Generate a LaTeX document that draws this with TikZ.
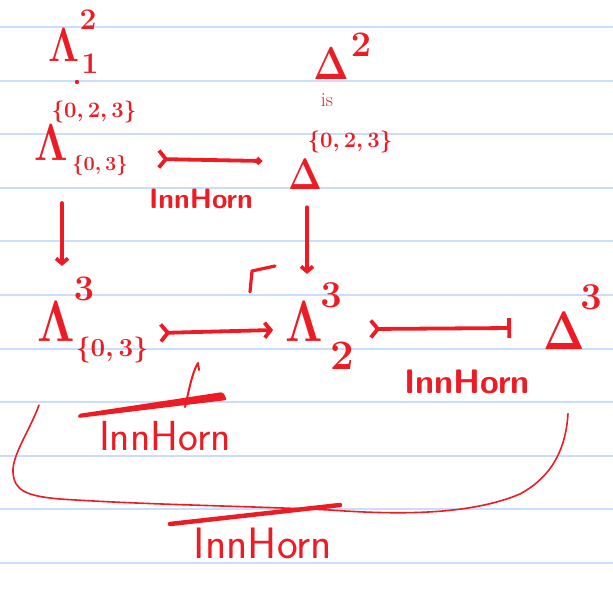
\documentclass[tikz,border=0pt]{standalone}
\usepackage{fix-cm}
\usepackage{fontspec}
\usetikzlibrary{arrows.meta}
\definecolor{ink}{RGB}{237,28,36}
\definecolor{paperrule}{RGB}{200,222,250}
\newcommand\mfont[1]{\fontsize{#1}{#1}\selectfont\boldmath}
\newcommand\narrow[1]{\scalebox{0.82}[1]{#1}}
\tikzset{
  glyph/.style={text=ink,inner sep=0pt,font=\mfont{#1}},
  pen/.style={draw=ink,line width=3.8pt,line cap=round,line join=round},
  tag/.style={text=ink,inner sep=0pt,font=\fontsize{#1}{#1}\selectfont\sffamily\bfseries},
  thintag/.style={text=ink,inner sep=0pt,font=\fontsize{#1}{#1}\selectfont\sffamily},
  monodot/.style={pen,{Straight Barb[reversed,length=7pt,width=17pt]}-{Circle[length=7pt]}},
  monoto/.style={pen,{Straight Barb[reversed,length=7pt,width=17pt]}-{Straight Barb[length=6pt,width=15pt]}},
  monobar/.style={pen,{Straight Barb[reversed,length=7pt,width=17pt]}-{Bar[width=20pt]}},
  downto/.style={pen,-{Straight Barb[length=5pt,width=12pt]}},
  thinpen/.style={draw=ink,line width=1.6pt,line cap=round,line join=round},
}
\begin{document}
\begin{tikzpicture}[x=1pt,y=-1pt]
\useasboundingbox (0,0) rectangle (613,592);
\fill[white] (0,0) rectangle (613,592);
\foreach \k in {0,...,10} \draw[paperrule,line width=2pt] (0,27+53.6*\k) -- (613,27+53.6*\k);

% objects: main symbols and their scripts
\node[glyph=48] (A) at (64,45) {\narrow{$\Lambda$}};
\node[glyph=30] (Asup) at (88,20) {$2$};
\node[glyph=30] (Asub) at (90,64) {$1$};
\fill[ink] (77,82) circle (2.2pt);

\node[glyph=52] (B) at (51,143) {\narrow{$\Lambda$}};
\node[glyph=22] (Bsup) at (94,112) {$\{0,2,3\}$};
\node[glyph=20] (Bsub) at (100,165) {$\{0,3\}$};

\node[glyph=46] (C) at (331,64) {\narrow{$\Delta$}};
\node[glyph=36] (Csup) at (361,45) {$2$};
\node[text=ink,inner sep=0pt,font=\fontsize{20}{20}\selectfont] (isT) at (327,100) {is};

\node[glyph=44] (D) at (305,174) {\narrow{$\Delta$}};
\node[glyph=22] (Dsup) at (350,142) {$\{0,2,3\}$};

\node[glyph=58] (E) at (56,322) {\narrow{$\Lambda$}};
\node[glyph=36] (Esup) at (84,289) {$3$};
\node[glyph=26] (Esub) at (112,350) {$\{0,3\}$};

\node[glyph=58] (F) at (304,322) {\narrow{$\Lambda$}};
\node[glyph=38] (Fsup) at (331,295) {$3$};
\node[glyph=42] (Fsub) at (342,356) {$2$};

\node[glyph=54] (G) at (564,331) {\narrow{$\Delta$}};
\node[glyph=38] (Gsup) at (591,297) {$3$};

% labels
\node[tag=28] (l1) at (201,199) {InnHorn};
\node[tag=34] (l2) at (467,382) {InnHorn};
\node[thintag=42] (l3) at (165,436) {InnHorn};
\node[thintag=44] (l4) at (263,543) {InnHorn};

% arrows
\draw[monodot] ([shift={(89,16)}]B.east) -- ([shift={(-26,-13)}]D.west);
\draw[downto] ([shift={(11,42)}]B.south) -- ([shift={(6,-36)}]E.north);
\draw[downto] ([shift={(2,18)}]D.south) -- ([shift={(3,-28)}]F.north);
\draw[monoto] ([shift={(84,11)}]E.east) -- ([shift={(-12,8)}]F.west);
\draw[monobar] ([shift={(46,7)}]F.east) -- ([shift={(-32,-3)}]G.west);

% pushout corner
\draw[pen,line width=3.2pt] (275,266) -- (252,271) -- (250,292);

% overline of first closure label and its tie to the arrow
\fill[ink,rounded corners=2pt] (78,414) -- (223,392) -- (227,400) -- (78,418) -- cycle;
\draw[thinpen,line width=2pt] ([shift={(20,-14)}]l3.north) .. controls (188,395) and (192,372) .. (198,363) -- (199,370);

% overline of second closure label
\draw[pen,line width=4.5pt] (170,524) -- (340,505);

% big curved connector
\draw[thinpen] ([shift={(-17,63)}]E.south) .. controls (30,430) and (12,455) .. (13,472)
  .. controls (14,490) and (25,496) .. (60,499)
  .. controls (150,505) and (250,506) .. (330,510)
  .. controls (400,515) and (470,515) .. (520,494)
  .. controls (555,475) and (566,445) .. ([shift={(4,64)}]G.south);
\end{tikzpicture}
\end{document}
